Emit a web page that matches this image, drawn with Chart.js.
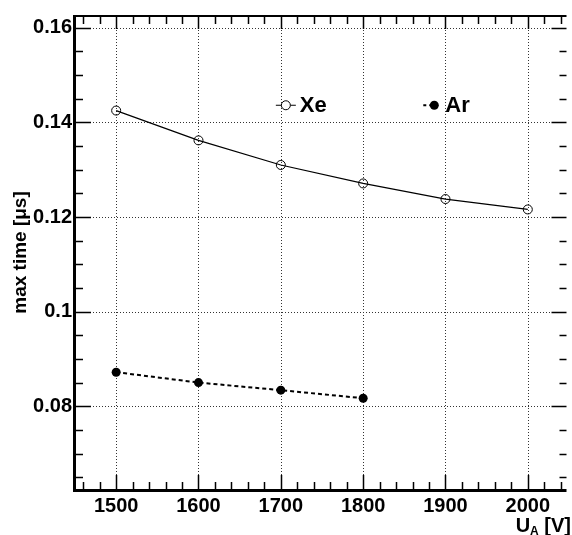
<!DOCTYPE html>
<html>
<head>
<meta charset="utf-8">
<title>max time vs U_A</title>
<script src="https://cdn.jsdelivr.net/npm/chart.js@4.4.1/dist/chart.umd.min.js"></script>
<style>
  html, body { margin: 0; padding: 0; background: #fff; }
  #chart { display: block; }
</style>
</head>
<body>
<canvas id="chart" width="572" height="535"></canvas>
<script>
// Anode voltage [V] and max drift time [us] for each gas
const xeVoltage = [1500, 1600, 1700, 1800, 1900, 2000];
const xeTime = [0.1425, 0.1362, 0.1310, 0.1271, 0.1238, 0.1216];
const arVoltage = [1500, 1600, 1700, 1800];
const arTime = [0.0872, 0.0850, 0.0834, 0.0817];

// Axis ranges and labelled ticks
const xRange = [1450, 2047];
const yRange = [0.0623, 0.1627];
const xTickValues = [1500, 1600, 1700, 1800, 1900, 2000];
const yTickValues = [0.08, 0.1, 0.12, 0.14, 0.16];
const xMinorStep = 20;
const yMinorStep = 0.005;

const FONT = '"Liberation Sans", Arial, Helvetica, sans-serif';

const toPoints = (xs, ys) => xs.map((x, i) => ({ x: x, y: ys[i] }));

// ROOT-like frame: dotted grid, inward ticks on all sides, titles and legend
const rootFrame = {
  id: 'rootFrame',
  beforeDatasetsDraw(chart) {
    const { ctx, chartArea: a, scales: { x, y } } = chart;
    ctx.save();
    ctx.strokeStyle = '#333';
    ctx.lineWidth = 1;
    ctx.setLineDash([1, 2]);
    xTickValues.forEach(v => {
      const px = Math.round(x.getPixelForValue(v)) + 0.5;
      ctx.beginPath(); ctx.moveTo(px, a.top); ctx.lineTo(px, a.bottom); ctx.stroke();
    });
    yTickValues.forEach(v => {
      const py = Math.round(y.getPixelForValue(v)) + 0.5;
      ctx.beginPath(); ctx.moveTo(a.left, py); ctx.lineTo(a.right, py); ctx.stroke();
    });
    ctx.restore();
  },
  afterDatasetsDraw(chart) {
    const { ctx, chartArea: a, scales: { x, y } } = chart;
    ctx.save();
    ctx.strokeStyle = '#000';
    ctx.setLineDash([]);
    ctx.lineWidth = 1.5;

    // x ticks (bottom and top)
    for (let v = Math.ceil(xRange[0] / xMinorStep) * xMinorStep; v <= xRange[1]; v += xMinorStep) {
      const major = v % 100 === 0;
      const px = Math.round(x.getPixelForValue(v)) + 0.5;
      const len = major ? 15 : 8;
      ctx.beginPath();
      ctx.moveTo(px, a.bottom); ctx.lineTo(px, a.bottom - len);
      ctx.moveTo(px, a.top); ctx.lineTo(px, a.top + (major ? 14 : 9));
      ctx.stroke();
    }
    // y ticks (left and right)
    for (let i = Math.ceil(yRange[0] / yMinorStep); i * yMinorStep <= yRange[1] + 1e-9; i++) {
      const v = i * yMinorStep;
      const major = i % 4 === 0;
      const py = Math.round(y.getPixelForValue(v)) + 0.5;
      ctx.beginPath();
      ctx.moveTo(a.left, py); ctx.lineTo(a.left + (major ? 16 : 8), py);
      ctx.moveTo(a.right, py); ctx.lineTo(a.right - (major ? 15 : 7), py);
      ctx.stroke();
    }

    // frame
    ctx.lineWidth = 2;
    ctx.beginPath();
    ctx.moveTo(a.left, a.top + 1); ctx.lineTo(a.right, a.top + 1);
    ctx.stroke();
    ctx.lineWidth = 3;
    ctx.beginPath();
    ctx.moveTo(a.left - 0.5, a.top); ctx.lineTo(a.left - 0.5, a.bottom + 0.5);
    ctx.lineTo(a.right, a.bottom + 0.5);
    ctx.stroke();

    // y title
    ctx.fillStyle = '#000';
    ctx.font = 'bold 19px ' + FONT;
    ctx.save();
    ctx.translate(26, (a.top + a.bottom) / 2);
    ctx.rotate(-Math.PI / 2);
    ctx.textAlign = 'center';
    ctx.textBaseline = 'alphabetic';
    ctx.fillText('max time [\u03bcs]', 0, 0);
    ctx.restore();

    // x title: U_A [V], right aligned
    const big = 'bold 20px ' + FONT;
    const small = 'bold 12px ' + FONT;
    ctx.textBaseline = 'alphabetic';
    ctx.textAlign = 'left';
    ctx.font = big; const wU = ctx.measureText('U').width; const wV = ctx.measureText(' [V]').width;
    ctx.font = small; const wA = ctx.measureText('A').width;
    let tx = 571 - (wU + wA + wV);
    const ty = 532;
    ctx.font = big; ctx.fillText('U', tx, ty); tx += wU;
    ctx.font = small; ctx.fillText('A', tx, ty + 3); tx += wA;
    ctx.font = big; ctx.fillText(' [V]', tx, ty);

    // legend
    const lx1 = a.left + (a.right - a.left) * 0.429;
    const lx2 = a.left + (a.right - a.left) * 0.731;
    const ly = a.top + (a.bottom - a.top) * 0.19;
    ctx.lineWidth = 1;
    ctx.beginPath(); ctx.moveTo(lx1 - 10, ly); ctx.lineTo(lx1 + 10, ly); ctx.stroke();
    ctx.fillStyle = '#fff';
    ctx.beginPath(); ctx.arc(lx1, ly, 4.5, 0, Math.PI * 2); ctx.fill(); ctx.stroke();
    ctx.lineWidth = 2;
    ctx.setLineDash([3, 3]);
    ctx.beginPath(); ctx.moveTo(lx2 - 11, ly); ctx.lineTo(lx2, ly); ctx.stroke();
    ctx.setLineDash([]);
    ctx.fillStyle = '#000';
    ctx.beginPath(); ctx.arc(lx2, ly, 4.5, 0, Math.PI * 2); ctx.fill();
    ctx.font = 'bold 22px ' + FONT;
    ctx.textBaseline = 'middle';
    ctx.fillText('Xe', lx1 + 14, ly + 1);
    ctx.fillText('Ar', lx2 + 11, ly + 1);
    ctx.restore();
  }
};

new Chart(document.getElementById('chart'), {
  type: 'scatter',
  data: {
    datasets: [
      {
        label: 'Xe',
        data: toPoints(xeVoltage, xeTime),
        showLine: true,
        borderColor: '#000',
        borderWidth: 1.2,
        pointStyle: 'circle',
        pointRadius: 4.5,
        pointBorderWidth: 1,
        pointBorderColor: '#000',
        pointBackgroundColor: 'rgba(255,255,255,0)'
      },
      {
        label: 'Ar',
        data: toPoints(arVoltage, arTime),
        showLine: true,
        borderColor: '#000',
        borderWidth: 2,
        borderDash: [4, 3],
        pointStyle: 'circle',
        pointRadius: 4.5,
        pointBorderWidth: 0,
        pointBackgroundColor: '#000'
      }
    ]
  },
  options: {
    responsive: false,
    animation: false,
    devicePixelRatio: 1,
    layout: { padding: { top: 7, right: 0, left: 0, bottom: 0 } },
    plugins: { legend: { display: false }, tooltip: { enabled: false } },
    scales: {
      x: {
        type: 'linear',
        min: xRange[0],
        max: xRange[1],
        afterBuildTicks: s => { s.ticks = xTickValues.map(v => ({ value: v })); },
        afterFit: s => { s.height = 45; },
        grid: { display: false, drawTicks: false },
        border: { display: false },
        ticks: {
          color: '#000',
          padding: 4,
          maxRotation: 0,
          font: { family: FONT, size: 20, weight: 'bold' },
          callback: v => String(v)
        }
      },
      y: {
        type: 'linear',
        min: yRange[0],
        max: yRange[1],
        afterBuildTicks: s => { s.ticks = yTickValues.map(v => ({ value: v })); },
        afterFit: s => { s.width = 75; },
        grid: { display: false, drawTicks: false },
        border: { display: false },
        ticks: {
          color: '#000',
          padding: 3,
          font: { family: FONT, size: 20, weight: 'bold' },
          callback: v => String(Math.round(v * 1000) / 1000)
        }
      }
    }
  },
  plugins: [rootFrame]
});
</script>
</body>
</html>
